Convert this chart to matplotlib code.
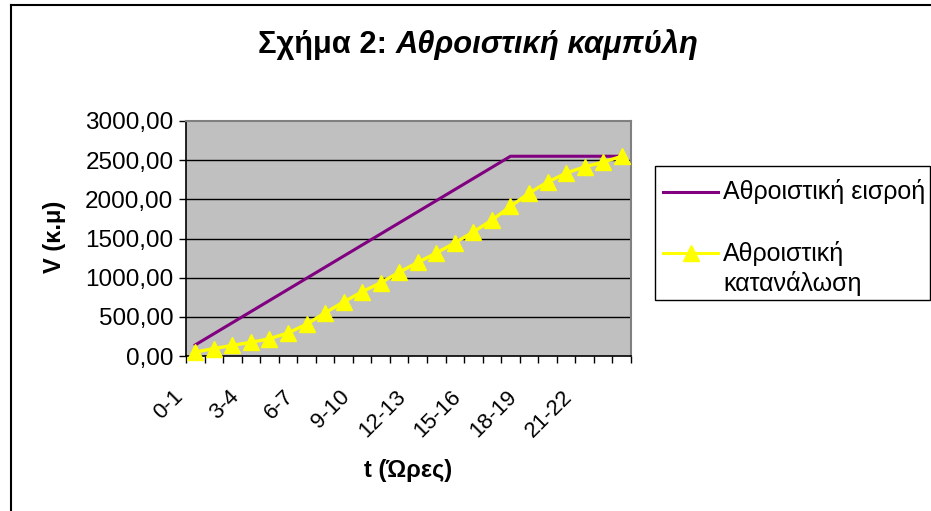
import matplotlib
matplotlib.use("Agg")
import matplotlib.pyplot as plt
import matplotlib.transforms as mtransforms
from matplotlib.lines import Line2D
from matplotlib.patches import Rectangle
import numpy as np

plt.rcParams['font.family'] = ['Liberation Sans', 'DejaVu Sans']

categories = [f"{h}-{h+1}" for h in range(24)]
inflow = [141.67, 283.33, 425.0, 566.67, 708.33, 850.0, 991.67, 1133.33, 1275.0,
          1416.67, 1558.33, 1700.0, 1841.67, 1983.33, 2125.0, 2266.67, 2408.33,
          2550.0, 2550.0, 2550.0, 2550.0, 2550.0, 2550.0, 2550.0]
consumption = [50, 95, 135, 175, 220, 295, 405, 550, 690, 820, 935, 1070,
               1195, 1315, 1445, 1585, 1735, 1910, 2080, 2220, 2335, 2415,
               2475, 2550]
y_ticks = [0, 500, 1000, 1500, 2000, 2500, 3000]
label_every = 3
series_names = ['Αθροιστική εισροή', 'Αθροιστική\nκατανάλωση']

W, H = 931, 511
fig = plt.figure(figsize=(W/100, H/100), dpi=100)
fig.patch.set_facecolor('white')

def fx(px):
    return px / W

def fy(py):
    return 1 - py / H

# outer chart border (left and top visible)
fig.add_artist(Line2D([fx(11), fx(11)], [0, fy(5)], transform=fig.transFigure, color='black', lw=1.5))
fig.add_artist(Line2D([fx(11), 1], [fy(5), fy(5)], transform=fig.transFigure, color='black', lw=1.5))

ax = fig.add_axes([fx(186), fy(356), (631-186)/W, (356-121)/H])
ax.set_facecolor('#c0c0c0')

x = np.arange(len(categories))
purple = '#800080'
yellow = '#ffff00'
ax.plot(x, inflow, color=purple, lw=2.2, zorder=3)
ax.plot(x, consumption, color=yellow, lw=2.4, marker='^', markersize=12,
        markerfacecolor=yellow, markeredgecolor=yellow, zorder=4, clip_on=False)

ax.set_xlim(-0.5, len(categories) - 0.5)
ax.set_ylim(0, 3000)

ax.set_yticks(y_ticks)
ax.set_yticklabels([f"{v:.2f}".replace('.', ',') for v in y_ticks], fontsize=17.5)
for v in y_ticks[1:-1]:
    ax.axhline(v, color='#000000', lw=1.0, zorder=1)

# category boundary ticks
ax.set_xticks(np.arange(-0.5, len(categories) + 0.5, 1.0))
ax.set_xticklabels([])
ax.tick_params(axis='x', direction='out', length=5, width=1, color='black')
ax.tick_params(axis='y', direction='out', length=5, width=1, color='black', pad=4)

offset = mtransforms.ScaledTranslation(-8/100, -30/100, fig.dpi_scale_trans)
trans = mtransforms.blended_transform_factory(ax.transData, ax.transAxes) + offset
for i in range(0, len(categories), label_every):
    if i >= 22:
        continue
    ax.text(i, 0, categories[i], rotation=45, ha='right', va='top',
            fontsize=16, transform=trans)

for side in ['top', 'right']:
    ax.spines[side].set_color('#808080')
    ax.spines[side].set_linewidth(1.5)
for side in ['left', 'bottom']:
    ax.spines[side].set_color('black')
    ax.spines[side].set_linewidth(1.2)

fig.text(fx(55), fy(237), 'V (κ.μ)', rotation=90, ha='center', va='center',
         fontsize=17, fontweight='bold')
fig.text(fx(408), fy(470), 't (Ώρες)', ha='center', va='center',
         fontsize=17, fontweight='bold')

t1 = fig.text(fx(258), fy(45), 'Σχήμα 2: ', ha='left', va='center', fontsize=22.2,
              fontweight='bold')
fig.canvas.draw()
bb = t1.get_window_extent()
fig.text(bb.x1/W, fy(45), 'Αθροιστική καμπύλη', ha='left', va='center',
         fontsize=22.2, fontweight='bold', style='italic')

# legend (drawn manually to match the layout)
fig.add_artist(Rectangle((fx(655), fy(300)), fx(930) - fx(655), fy(166) - fy(300),
                         transform=fig.transFigure, facecolor='white',
                         edgecolor='black', lw=1.0))
fig.add_artist(Line2D([fx(663), fx(718)], [fy(192), fy(192)], transform=fig.transFigure,
                      color=purple, lw=2.2))
fig.text(fx(723), fy(192), series_names[0], ha='left', va='center', fontsize=18)
fig.add_artist(Line2D([fx(663), fx(718)], [fy(253), fy(253)], transform=fig.transFigure,
                      color=yellow, lw=2.2))
fig.add_artist(Line2D([fx(690.5)], [fy(253)], transform=fig.transFigure, color=yellow,
                      marker='^', markersize=12, markerfacecolor=yellow,
                      markeredgecolor=yellow, lw=0))
fig.text(fx(723), fy(268), series_names[1], ha='left', va='center', fontsize=18,
         linespacing=1.25)

fig.savefig('out.png', dpi=100)
